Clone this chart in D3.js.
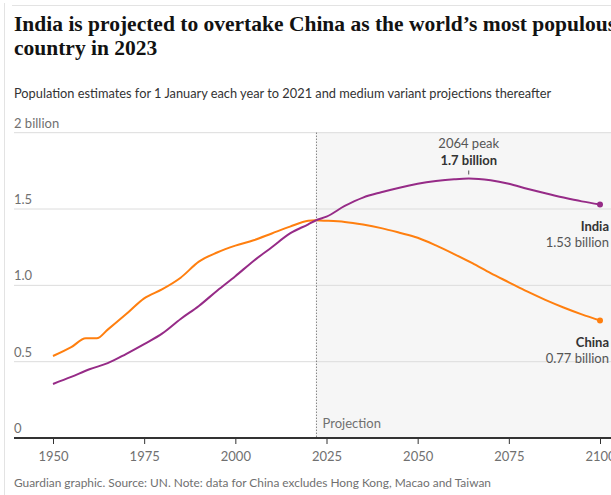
<!DOCTYPE html>
<html>
<head>
<meta charset="utf-8">
<script src="https://cdn.jsdelivr.net/npm/d3@7"></script>
<style>
  body { margin: 0; background: #fff; }
  svg { display: block; }
  .sans { font-family: Lato, "Open Sans", sans-serif; }
</style>
</head>
<body>
<div id="chart"></div>
<script>
// Population, billions
const chinaYears = [1950, 1955, 1959, 1962, 1965, 1970, 1975, 1980, 1985, 1990, 1995, 2000, 2005, 2010, 2015, 2020, 2022,
    2025, 2030, 2035, 2040, 2045, 2050, 2055, 2060, 2065, 2070, 2075, 2080, 2085, 2090, 2095, 2100];
const chinaValues = [0.537, 0.595, 0.653, 0.653, 0.71, 0.81, 0.915, 0.975, 1.05, 1.155, 1.215, 1.26, 1.295, 1.34, 1.385, 1.423, 1.426,
    1.423, 1.415, 1.398, 1.375, 1.345, 1.312, 1.262, 1.205, 1.145, 1.08, 1.02, 0.96, 0.905, 0.855, 0.81, 0.77];
const indiaYears = [1950, 1955, 1960, 1965, 1970, 1975, 1980, 1985, 1990, 1995, 2000, 2005, 2010, 2015, 2020, 2022,
    2025, 2030, 2035, 2040, 2045, 2050, 2055, 2060, 2064, 2070, 2075, 2080, 2085, 2090, 2095, 2100];
const indiaValues = [0.354, 0.40, 0.45, 0.49, 0.55, 0.615, 0.685, 0.78, 0.865, 0.965, 1.06, 1.16, 1.25, 1.34, 1.40, 1.425,
    1.45, 1.52, 1.575, 1.61, 1.64, 1.665, 1.683, 1.695, 1.70, 1.688, 1.665, 1.633, 1.603, 1.575, 1.55, 1.53];

const xTicks = [1950, 1975, 2000, 2025, 2050, 2075, 2100];
const yTicks = [0, 0.5, 1, 1.5, 2];
const yTickLabels = ["0", "0.5", "1.0", "1.5", "2 billion"];
const projectionStart = 2022;
const peak = { year: 2064, label: "2064 peak", value: "1.7 billion" };

const title = ["India is projected to overtake China as the world\u2019s most populous", "country in 2023"];
const subtitle = "Population estimates for 1 January each year to 2021 and medium variant projections thereafter";
const footer = "Guardian graphic. Source: UN. Note: data for China excludes Hong Kong, Macao and Taiwan";

const colors = { india: "#962b87", china: "#ff7f0f" };

function toSeries(years, values) {
    return years.map((y, i) => ({ year: y, value: values[i] }));
}

function drawChart() {
    const W = 611, H = 495;
    const left = 14;
    const svg = d3.select("#chart").append("svg")
        .attr("width", W)
        .attr("height", H);

    const x = d3.scaleLinear().domain([1950, 2100]).range([53, 600]);
    const y = d3.scaleLinear().domain([0, 2]).range([438, 132.7]);

    // frame rules
    svg.append("line").attr("x1", 4.5).attr("x2", 4.5).attr("y1", 3).attr("y2", H)
        .attr("stroke", "#e3e3e3");
    svg.append("line").attr("x1", 12).attr("x2", W).attr("y1", 5.5).attr("y2", 5.5)
        .attr("stroke", "#e3e3e3");

    // headline
    svg.append("text")
        .attr("font-family", "'Liberation Serif', Georgia, serif")
        .attr("font-weight", "bold")
        .attr("font-size", 21.5)
        .attr("fill", "#121212")
        .selectAll("tspan")
        .data(title)
        .join("tspan")
        .attr("x", left)
        .attr("y", (d, i) => 31 + i * 24)
        .text(d => d);

    svg.append("text").attr("class", "sans")
        .attr("x", left).attr("y", 98)
        .attr("font-size", 12.8)
        .attr("fill", "#333")
        .text(subtitle);

    // projection shading
    svg.append("rect")
        .attr("x", x(projectionStart))
        .attr("y", y(2))
        .attr("width", W - x(projectionStart))
        .attr("height", y(0) - y(2))
        .attr("fill", "#f6f6f6");

    // gridlines + y labels
    const grid = svg.append("g");
    grid.selectAll("line")
        .data(yTicks.filter(d => d > 0))
        .join("line")
        .attr("x1", left).attr("x2", W)
        .attr("y1", d => y(d)).attr("y2", d => y(d))
        .attr("stroke", "#dcdcdc");
    grid.selectAll("text")
        .data(yTicks)
        .join("text")
        .attr("class", "sans")
        .attr("x", left)
        .attr("y", d => y(d) - 5)
        .attr("font-size", 13)
        .attr("fill", "#707070")
        .text((d, i) => yTickLabels[i]);

    // projection divider
    svg.append("line")
        .attr("x1", Math.round(x(projectionStart)) + 0.5)
        .attr("x2", Math.round(x(projectionStart)) + 0.5)
        .attr("y1", y(2)).attr("y2", y(0))
        .attr("stroke", "#555")
        .attr("stroke-dasharray", "1,2");
    svg.append("text").attr("class", "sans")
        .attr("x", x(projectionStart) + 7)
        .attr("y", y(0) - 10)
        .attr("font-size", 13)
        .attr("fill", "#707070")
        .text("Projection");

    // x axis
    const xAxis = svg.append("g")
        .attr("transform", `translate(0,${y(0)})`)
        .call(d3.axisBottom(x).tickValues(xTicks).tickFormat(d3.format("d")).tickSize(6).tickPadding(8));
    xAxis.select(".domain").remove();
    xAxis.selectAll(".tick line").attr("stroke", "#333");
    xAxis.selectAll(".tick text")
        .attr("class", "sans")
        .attr("font-size", 13)
        .attr("fill", "#707070");
    svg.append("line")
        .attr("x1", left).attr("x2", W)
        .attr("y1", y(0)).attr("y2", y(0))
        .attr("stroke", "#333")
        .attr("stroke-width", 2);

    // lines
    const line = d3.line()
        .x(d => x(d.year))
        .y(d => y(d.value))
        .curve(d3.curveMonotoneX);
    const series = [
        { key: "china", data: toSeries(chinaYears, chinaValues) },
        { key: "india", data: toSeries(indiaYears, indiaValues) }
    ];
    series.forEach(s => {
        svg.append("path")
            .datum(s.data)
            .attr("fill", "none")
            .attr("stroke", colors[s.key])
            .attr("stroke-width", 2)
            .attr("d", line);
        const last = s.data[s.data.length - 1];
        svg.append("circle")
            .attr("cx", x(last.year))
            .attr("cy", y(last.value))
            .attr("r", 3)
            .attr("fill", colors[s.key]);
    });

    // end labels
    const endLabels = [
        { name: "India", value: indiaValues[indiaValues.length - 1] },
        { name: "China", value: chinaValues[chinaValues.length - 1] }
    ];
    endLabels.forEach(d => {
        const yy = y(d.value);
        svg.append("text").attr("class", "sans")
            .attr("x", 609).attr("y", yy + 27)
            .attr("text-anchor", "end")
            .attr("font-size", 13)
            .attr("font-weight", "bold")
            .attr("fill", "#333")
            .text(d.name);
        svg.append("text").attr("class", "sans")
            .attr("x", 609).attr("y", yy + 43)
            .attr("text-anchor", "end")
            .attr("font-size", 13)
            .attr("fill", "#555")
            .text(`${d.value.toFixed(2)} billion`);
    });

    // peak annotation
    const px = x(peak.year);
    const pv = indiaValues[indiaYears.indexOf(peak.year)];
    svg.append("line")
        .attr("x1", px).attr("x2", px)
        .attr("y1", y(pv) - 8).attr("y2", y(pv) - 4)
        .attr("stroke", "#555");
    svg.append("text").attr("class", "sans")
        .attr("x", px).attr("y", 148)
        .attr("text-anchor", "middle")
        .attr("font-size", 13)
        .attr("fill", "#555")
        .text(peak.label);
    svg.append("text").attr("class", "sans")
        .attr("x", px).attr("y", 165)
        .attr("text-anchor", "middle")
        .attr("font-size", 13)
        .attr("font-weight", "bold")
        .attr("fill", "#333")
        .text(peak.value);

    svg.append("text").attr("class", "sans")
        .attr("x", left).attr("y", 487)
        .attr("font-size", 11.9)
        .attr("fill", "#707070")
        .text(footer);
}

drawChart();
</script>
</body>
</html>
